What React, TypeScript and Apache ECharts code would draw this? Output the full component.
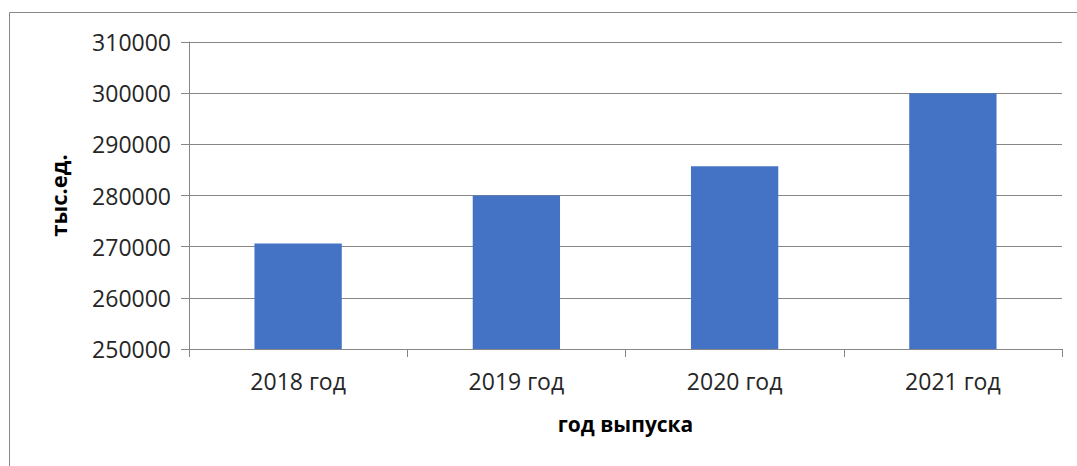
import React, { useEffect, useRef } from "react";
import * as echarts from "echarts";

const categories = ["2018 год", "2019 год", "2020 год", "2021 год"];
const values = [270600, 280000, 285700, 300000];
const yMin = 250000;
const yMax = 310000;
const yStep = 10000;
const xAxisTitle = "год выпуска";
const yAxisTitle = "тыс.ед.";

const FONT = "'Open Sans', 'Noto Sans', sans-serif";
const GRAY = "#878787";
const TEXT = "#262626";

export default function App() {
  const ref = useRef<HTMLDivElement>(null);
  useEffect(() => {
    if (!ref.current) return;
    const chart = echarts.init(ref.current, null, { renderer: "svg" });
    chart.setOption({
      animation: false,
      backgroundColor: "#ffffff",
      grid: { left: 189, right: 15, top: 42, bottom: 117, containLabel: false },
      graphic: [
        {
          type: "rect",
          shape: { x: 9.5, y: 12.5, width: 1300, height: 700 },
          style: { fill: "none", stroke: GRAY, lineWidth: 1 },
          silent: true,
        },
      ],
      xAxis: {
        type: "category",
        data: categories,
        axisLine: { show: true, lineStyle: { color: GRAY, width: 1 } },
        axisTick: { show: true, length: 8, lineStyle: { color: GRAY } },
        axisLabel: { color: TEXT, fontSize: 23, fontFamily: FONT, margin: 20 },
        name: xAxisTitle,
        nameLocation: "middle",
        nameGap: 64,
        nameTextStyle: { color: "#000", fontSize: 21, fontWeight: "bold", fontFamily: FONT },
      },
      yAxis: {
        type: "value",
        min: yMin,
        max: yMax,
        interval: yStep,
        axisLine: { show: true, lineStyle: { color: GRAY, width: 1 } },
        axisTick: { show: true, length: 8, lineStyle: { color: GRAY } },
        splitLine: { show: true, lineStyle: { color: GRAY, width: 1 } },
        axisLabel: {
          color: TEXT,
          fontSize: 23,
          fontFamily: FONT,
          margin: 18,
          formatter: (v: number) => String(v),
        },
        name: yAxisTitle,
        nameLocation: "middle",
        nameGap: 120,
        nameTextStyle: { color: "#000", fontSize: 22, fontWeight: "bold", fontFamily: FONT },
      },
      series: [
        {
          type: "bar",
          data: values,
          barWidth: "40%",
          itemStyle: { color: "#4472C4" },
        },
      ],
    });
    return () => chart.dispose();
  }, []);
  return (
    <div
      ref={ref}
      style={{ position: "fixed", left: 0, top: 0, width: 1077, height: 466 }}
    />
  );
}
